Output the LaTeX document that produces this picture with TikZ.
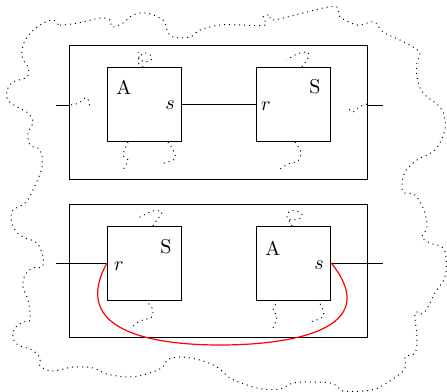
\documentclass[tikz,border=0pt]{standalone}
\begin{document}
\begin{tikzpicture}[x=0.5pt,y=-0.5pt,
  box/.style={draw,line width=0.5pt,inner sep=0pt,minimum width=37.25pt,minimum height=37.25pt},
  frame/.style={draw,line width=0.5pt,inner sep=0pt,minimum width=149pt},
  wig/.style={dotted,line width=0.5pt},
  wire/.style={line width=0.5pt}]
\useasboundingbox (0,0) rectangle (447,392);
% outer cloud
\draw[wig] plot[smooth cycle,tension=0.6] coordinates {
(53,20) (60,25) (83,22) (100,18) (110,20) (112,27) (123,23) (133,15) (147,13) (163,20) (167,30) (173,37) (190,37) (200,30) (220,25) (240,25) (265,25) (263,17) (270,15) (273,20) (303,13) (323,8) (337,7) (340,17) (357,25) (367,23) (375,22) (383,32) (400,40) (413,47) (420,53) (417,63) (417,77) (423,93) (440,107) (445,120) (444,133) (435,150) (417,160) (405,172) (402,187) (405,193) (415,195) (424,210) (427,227) (422,237) (430,243) (442,247) (446,257) (445,277) (435,293) (424,313) (415,313) (417,337) (415,353) (405,357) (404,370) (380,387) (363,391) (343,391) (338,387) (330,383) (310,382) (293,383) (280,389) (263,389) (247,385) (230,378) (217,367) (200,360) (180,357) (167,360) (163,367) (150,373) (130,377) (107,374) (93,368) (73,367) (53,371) (40,366) (40,358) (32,350) (18,345) (13,338) (15,328) (23,322) (30,320) (28,300) (23,287) (25,275) (32,268) (42,267) (43,257) (37,243) (23,237) (15,230) (11,218) (13,210) (25,203) (33,190) (42,167) (40,150) (30,145) (28,133) (33,122) (28,113) (17,107) (8,100) (7,90) (13,82) (27,77) (28,67) (23,60) (22,50) (27,37) (40,25)};
% top row
\node[frame,minimum height=67pt] (O1) at (219,112) {};
\node[box] (A1) at (144.75,104.25) {};
\node[box] (S1) at (293.5,104.25) {};
\coordinate (L1) at (56,105);
\coordinate (R1) at (383,105);
\draw[wire] (L1) -- (L1 -| O1.west);
\draw[wire] (R1) -- (R1 -| O1.east);
\draw[wire] (A1.east) -- (S1.west);
\node at (124,87) {A};
\node at (170,105) {$s$};
\node at (266,106) {$r$};
\node at (315,87) {S};
% top row wiggles
\draw[wig] plot[smooth,tension=0.7] coordinates {(143,67) (138,62) (141,55) (147,53) (152,58) (146,62) (140,59) (138,52)};
\draw[wig] plot[smooth] coordinates {(128,142) (123,155) (128,160) (123,170)};
\draw[wig] plot[smooth] coordinates {(168,142) (173,150) (175,159) (160,164)};
\draw[wig] plot[smooth] coordinates {(71,105) (79,103) (85,98) (88,99) (90,107)};
\draw[wig] plot[smooth] coordinates {(302,67) (308,58) (308,52) (297,54) (287,60)};
\draw[wig] plot[smooth] coordinates {(295,142) (301,152) (298,161) (288,164) (280,169)};
\draw[wig] plot[smooth] coordinates {(367,104) (359,107) (353,112) (347,107)};
% bottom row
\node[frame,minimum height=66.5pt] (O2) at (219,270.5) {};
\node[box,minimum height=37pt] (S2) at (144.75,263) {};
\node[box,minimum height=37pt] (A2) at (293.5,263) {};
\coordinate (L2) at (56,263);
\coordinate (R2) at (383,263);
\draw[wire] (L2) -- (S2.west);
\draw[wire] (A2.east) -- (R2);
\node at (166,247) {S};
\node at (119,266) {$r$};
\node at (273,248) {A};
\node at (319,265) {$s$};
% bottom row wiggles
\draw[wig] plot[smooth] coordinates {(153,226) (157,220) (162,212) (153,211) (138,218)};
\draw[wig] plot[smooth] coordinates {(145,300) (152,308) (152,317) (140,321) (132,327)};
\draw[wig] plot[smooth,tension=0.7] coordinates {(292,226) (290,222) (287,217) (290,211) (299,212) (302,217) (294,220) (288,219)};
\draw[wig] plot[smooth] coordinates {(278,300) (273,310) (277,317) (272,330)};
\draw[wig] plot[smooth] coordinates {(317,300) (322,307) (323,317) (310,322)};
% red connector
\draw[red,line width=0.6pt] (S2.west) .. controls (70,330) and (150,345) .. (220,345)
  .. controls (290,345) and (385,330) .. (A2.east);
\end{tikzpicture}
\end{document}
